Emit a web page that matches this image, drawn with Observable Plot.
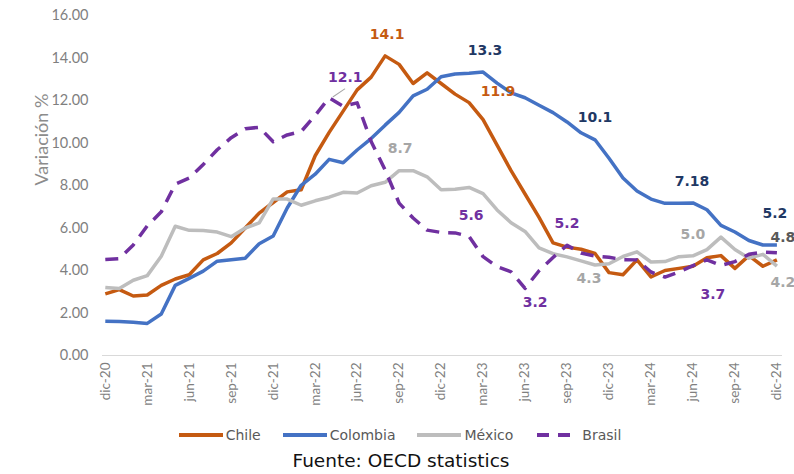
<!DOCTYPE html>
<html>
<head>
<meta charset="utf-8">
<script src="https://cdn.jsdelivr.net/npm/d3@7"></script>
<script src="https://cdn.jsdelivr.net/npm/@observablehq/plot@0.6"></script>
<style>
  html, body { margin: 0; padding: 0; background: #fff; }
  #wrap { width: 794px; height: 474px; position: relative; overflow: hidden; }
  #legend { position: absolute; top: 427px; left: 0; width: 794px; display: flex; justify-content: center; align-items: center;
    font-family: "DejaVu Sans", Verdana, sans-serif; font-size: 14px; color: #595959; padding-left: 6px; box-sizing: border-box; }
  #legend .item { display: flex; align-items: center; margin: 0 11px; }
  #legend svg { margin-right: 3px; }
  #caption { position: absolute; top: 450px; left: 0; width: 794px; text-align: center; padding-left: 8px; box-sizing: border-box;
    font-family: "DejaVu Sans", Verdana, sans-serif; font-size: 18.5px; color: #111; }
</style>
</head>
<body>
<div id="wrap">
  <div id="chart"></div>
  <div id="legend"></div>
  <div id="caption">Fuente: OECD statistics</div>
</div>
<script>
// Month labels (dic-20 .. dic-24)
const months = [
  "dic-20",
  "ene-21","feb-21","mar-21","abr-21","may-21","jun-21","jul-21","ago-21","sep-21","oct-21","nov-21","dic-21",
  "ene-22","feb-22","mar-22","abr-22","may-22","jun-22","jul-22","ago-22","sep-22","oct-22","nov-22","dic-22",
  "ene-23","feb-23","mar-23","abr-23","may-23","jun-23","jul-23","ago-23","sep-23","oct-23","nov-23","dic-23",
  "ene-24","feb-24","mar-24","abr-24","may-24","jun-24","jul-24","ago-24","sep-24","oct-24","nov-24","dic-24"
];

const chile = [2.9,
  3.1,2.8,2.85,3.3,3.6,3.8,4.5,4.8,5.3,6.0,6.7,7.2,
  7.7,7.8,9.4,10.5,11.5,12.5,13.1,14.1,13.7,12.8,13.3,12.8,
  12.3,11.9,11.1,9.9,8.7,7.6,6.5,5.3,5.1,5.0,4.8,3.9,
  3.8,4.5,3.7,4.0,4.1,4.2,4.6,4.7,4.1,4.7,4.2,4.5];

const colombia = [1.61,
  1.60,1.56,1.51,1.95,3.30,3.63,3.97,4.44,4.51,4.58,5.26,5.62,
  6.94,8.01,8.53,9.23,9.07,9.67,10.21,10.84,11.44,12.22,12.53,13.12,
  13.25,13.28,13.34,12.82,12.36,12.13,11.78,11.43,10.99,10.48,10.15,9.28,
  8.35,7.74,7.36,7.16,7.16,7.18,6.86,6.12,5.81,5.41,5.20,5.20];

const mexico = [3.2,
  3.15,3.54,3.76,4.67,6.08,5.89,5.88,5.81,5.59,6.00,6.24,7.37,
  7.36,7.07,7.28,7.45,7.68,7.65,7.99,8.15,8.70,8.70,8.41,7.80,
  7.82,7.91,7.62,6.85,6.25,5.84,5.06,4.79,4.64,4.45,4.26,4.32,
  4.66,4.88,4.40,4.42,4.65,4.69,4.98,5.57,4.99,4.58,4.76,4.21];

const brasil = [4.52,
  4.56,5.20,6.10,6.76,8.06,8.35,8.99,9.68,10.25,10.67,10.74,10.06,
  10.38,10.54,11.30,12.13,11.73,11.89,10.07,8.73,7.17,6.47,5.90,5.79,
  5.77,5.60,4.65,4.18,3.94,3.16,3.99,4.61,5.19,4.82,4.68,4.62,
  4.51,4.50,3.93,3.69,3.93,4.23,4.50,4.24,4.42,4.76,4.87,4.83];

const seriesNames = ["Chile", "Colombia", "México", "Brasil"];
const seriesValues = [chile, colombia, mexico, brasil];

const yTicks = [0, 2, 4, 6, 8, 10, 12, 14, 16];
const xTickIdx = d3.range(0, 49, 3);

// Data labels: series, month index, text
const labelSeries = ["Chile","Brasil","Colombia","Chile","México","Colombia","Brasil","Brasil","Brasil","México","Colombia","México","Brasil","Colombia","Brasil","México"];
const labelIdx    = [20, 16, 27, 26, 21, 35, 26, 33, 30, 34, 42, 42, 40, 48, 48, 48];
const labelText   = ["14.1","12.1","13.3","11.9","8.7","10.1","5.6","5.2","3.2","4.3","7.18","5.0","3.7","5.2","4.8","4.2"];

// ---- styles (kept separate from data) ----
const colors = {"Chile": "#C55A11", "Colombia": "#4472C4", "México": "#BDBDBD", "Brasil": "#7030A0"};
const labelColors = {"Chile": "#C55A11", "Colombia": "#1F3864", "México": "#A6A6A6", "Brasil": "#7030A0"};
const labelOffsets = [[2,-21],[16,-20],[2,-22],[29,-11],[1,-22],[0,-22],[2,-21],[0,-22],[10,14],[8,18],[-1,-21],[0,-21],[48,17],[-2,-31],[6,-15],[6,16]];

const rows = seriesNames.flatMap((s, k) => seriesValues[k].map((v, i) => ({series: s, i, v})));
const labels = labelText.map((t, k) => {
  const s = labelSeries[k];
  const i = labelIdx[k];
  return {series: s, i, v: seriesValues[seriesNames.indexOf(s)][i], text: t,
    dx: labelOffsets[k][0], dy: labelOffsets[k][1], fill: t === "4.8" ? "#595959" : labelColors[s]};
});

const lineMark = (name, extra = {}) => Plot.line(rows.filter(d => d.series === name), {
  x: "i", y: "v", stroke: colors[name], strokeWidth: 3.5, strokeLinejoin: "round", strokeLinecap: "butt", ...extra
});

const labelMarks = labels.map(d => Plot.text([d], {x: "i", y: "v", text: "text", dx: d.dx, dy: d.dy, fill: d.fill,
  fontSize: 14, fontWeight: "bold", fontFamily: "'DejaVu Sans', Verdana, sans-serif"}));

const chart = Plot.plot({
  width: 794,
  height: 420,
  marginTop: 15,
  marginBottom: 65,
  marginLeft: 102,
  marginRight: 12,
  x: {type: "linear", domain: [-0.2, 48.4], axis: null},
  y: {domain: [0, 16], axis: null},
  style: {background: "#fff", overflow: "visible"},
  marks: [
    Plot.ruleY([0], {stroke: "#D9D9D9", strokeWidth: 1.2}),
    Plot.axisY(yTicks, {tickSize: 0, tickPadding: 14, tickFormat: d => d.toFixed(2), fontSize: 14.5, fill: "#7F7F7F",
      fontFamily: "Lato, 'Open Sans', sans-serif", label: null}),
    Plot.axisX(xTickIdx, {tickSize: 0, tickPadding: 7, tickRotate: -90, tickFormat: i => months[i], fontSize: 13.5, fill: "#7F7F7F",
      fontFamily: "Lato, 'Open Sans', sans-serif", label: null}),
    Plot.text(["Variación %"], {frameAnchor: "left", dx: -60, rotate: -90, fontSize: 18, fill: "#8C8C8C",
      fontFamily: "Lato, 'Open Sans', sans-serif"}),
    lineMark("Chile"),
    lineMark("Colombia"),
    lineMark("México"),
    lineMark("Brasil", {strokeDasharray: "13,9"}),
    // leader line for the 12.1 label
    Plot.vector(labels.filter(d => d.text === "12.1"), {
      x: "i", y: "v", length: 14, rotate: 56, anchor: "start", dx: 4, dy: -1, stroke: "#A6A6A6", strokeWidth: 1,
      shape: {draw(ctx, l) { ctx.moveTo(0, 0); ctx.lineTo(0, -l); }}
    }),
    ...labelMarks
  ]
});
document.getElementById("chart").appendChild(chart);

// Legend
const legend = document.getElementById("legend");
seriesNames.forEach(name => {
  const item = document.createElement("div");
  item.className = "item";
  const dash = name === "Brasil" ? 'stroke-dasharray="12,9" stroke-dashoffset="-2"' : "";
  item.innerHTML = `<svg width="44" height="10"><line x1="0" y1="5" x2="44" y2="5" stroke="${colors[name]}" stroke-width="4" ${dash}/></svg><span>${name}</span>`;
  legend.appendChild(item);
});
</script>
</body>
</html>
